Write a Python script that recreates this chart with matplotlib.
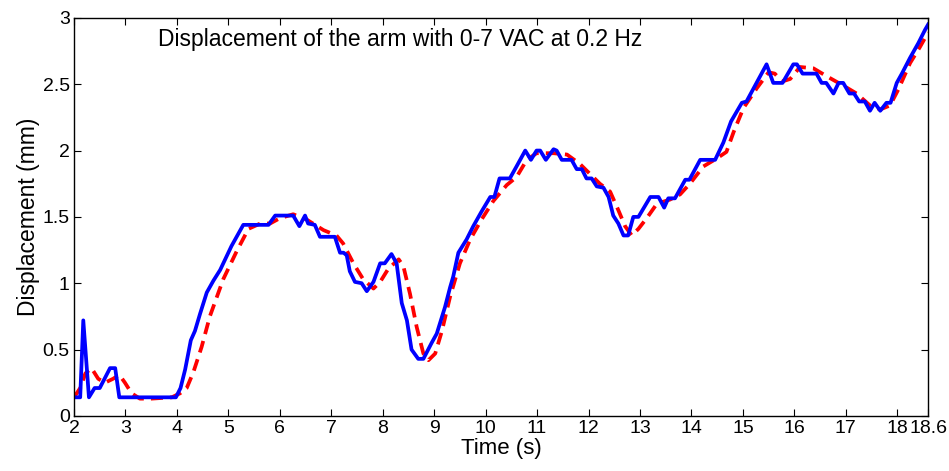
import numpy as np
import matplotlib.pyplot as plt

plt.rcParams['font.family'] = ['Liberation Sans', 'DejaVu Sans']

# measured displacement (blue)
t_meas = [2.0, 2.12, 2.18, 2.29, 2.4, 2.5, 2.7, 2.8, 2.88, 3.98, 4.07, 4.16, 4.27,
          4.35, 4.45, 4.58, 4.71, 4.84, 5.06, 5.29, 5.78, 5.91, 6.26, 6.38, 6.49,
          6.55, 6.68, 6.78, 7.07, 7.17, 7.24, 7.30, 7.36, 7.46, 7.59, 7.69, 7.82,
          7.95, 8.04, 8.17, 8.27, 8.37, 8.47, 8.56, 8.69, 8.79, 8.95, 9.05, 9.21,
          9.31, 9.37, 9.47, 9.63, 9.76, 9.92, 10.09, 10.17, 10.27, 10.47, 10.6,
          10.77, 10.88, 10.99, 11.06, 11.17, 11.32, 11.38, 11.48, 11.67, 11.77,
          11.87, 11.96, 12.06, 12.16, 12.29, 12.39, 12.48, 12.58, 12.68, 12.77,
          12.87, 12.97, 13.20, 13.36, 13.47, 13.55, 13.68, 13.88, 13.96, 14.17,
          14.46, 14.62, 14.77, 14.98, 15.07, 15.46, 15.59, 15.77, 15.98, 16.05,
          16.16, 16.43, 16.53, 16.62, 16.76, 16.86, 16.95, 17.07, 17.16, 17.26,
          17.37, 17.47, 17.56, 17.67, 17.79, 17.87, 17.99, 18.09, 18.25, 18.41,
          18.54, 18.6]
d_meas = [0.14, 0.14, 0.72, 0.14, 0.21, 0.21, 0.36, 0.36, 0.14, 0.14, 0.21, 0.35, 0.57,
          0.64, 0.77, 0.93, 1.02, 1.10, 1.28, 1.44, 1.44, 1.51, 1.51, 1.43, 1.51,
          1.45, 1.44, 1.35, 1.35, 1.23, 1.23, 1.21, 1.09, 1.01, 1.0, 0.94, 1.01,
          1.15, 1.15, 1.22, 1.15, 0.85, 0.72, 0.50, 0.43, 0.43, 0.55, 0.62, 0.82,
          0.97, 1.05, 1.23, 1.33, 1.43, 1.54, 1.65, 1.65, 1.79, 1.79, 1.88,
          2.0, 1.93, 2.0, 2.0, 1.93, 2.01, 2.0, 1.93, 1.93, 1.86,
          1.86, 1.79, 1.79, 1.73, 1.72, 1.65, 1.51, 1.45, 1.36, 1.36,
          1.50, 1.50, 1.65, 1.65, 1.57, 1.64, 1.64, 1.78, 1.78, 1.93,
          1.93, 2.06, 2.22, 2.36, 2.37, 2.65, 2.51, 2.51, 2.65, 2.65,
          2.58, 2.58, 2.51, 2.51, 2.43, 2.51, 2.51, 2.43, 2.43, 2.37,
          2.37, 2.30, 2.36, 2.30, 2.36, 2.36, 2.51, 2.58, 2.70, 2.81,
          2.91, 2.95]

# reference / model displacement (red dashed)
t_ref = [2.0, 2.12, 2.22, 2.34, 2.47, 2.6, 2.76, 2.88, 2.99, 3.12, 3.28, 3.5, 3.9,
         4.06, 4.19, 4.32, 4.48, 4.64, 4.77, 4.90, 5.16, 5.39, 5.62, 5.81, 6.0,
         6.26, 6.52, 6.85, 7.1, 7.23, 7.43, 7.62, 7.82, 7.95, 8.11, 8.31, 8.40,
         8.53, 8.66, 8.79, 8.89, 9.02, 9.15, 9.31, 9.50, 9.70, 9.92, 10.15, 10.41,
         10.60, 10.80, 10.99, 11.32, 11.58, 11.83, 12.09, 12.22, 12.42, 12.58,
         12.71, 12.84, 12.97, 13.13, 13.33, 13.58, 13.78, 13.97, 14.23, 14.49,
         14.68, 14.82, 15.01, 15.27, 15.50, 15.62, 15.76, 15.92, 16.11, 16.37,
         16.63, 16.95, 17.21, 17.47, 17.67, 17.86, 18.02, 18.25, 18.44, 18.6]
d_ref = [0.14, 0.21, 0.32, 0.36, 0.28, 0.25, 0.28, 0.31, 0.25, 0.17, 0.13, 0.13, 0.14,
         0.17, 0.21, 0.33, 0.52, 0.75, 0.89, 1.03, 1.24, 1.41, 1.45, 1.45, 1.49,
         1.52, 1.48, 1.40, 1.36, 1.30, 1.15, 1.03, 0.96, 1.01, 1.11, 1.18, 1.13,
         0.92, 0.67, 0.47, 0.42, 0.47, 0.64, 0.90, 1.15, 1.33, 1.48, 1.62, 1.74,
         1.80, 1.93, 1.98, 1.98, 1.97, 1.90, 1.80, 1.75, 1.69, 1.55,
         1.43, 1.36, 1.41, 1.49, 1.60, 1.63, 1.67, 1.75, 1.88, 1.94,
         1.99, 2.14, 2.32, 2.47, 2.59, 2.58, 2.52, 2.54, 2.63, 2.62,
         2.56, 2.49, 2.43, 2.34, 2.31, 2.34, 2.46, 2.66, 2.78, 2.89]

xticks = [2, 3, 4, 5, 6, 7, 8, 9, 10, 11, 12, 13, 14, 15, 16, 17, 18, 18.6]
xtick_labels = ['2', '3', '4', '5', '6', '7', '8', '9', '10', '11', '12', '13',
                '14', '15', '16', '17', '18', '18.6']
yticks = [0, 0.5, 1, 1.5, 2, 2.5, 3]
ytick_labels = ['0', '0.5', '1', '1.5', '2', '2.5', '3']

fig = plt.figure(figsize=(9.49, 4.71), dpi=100)
ax = fig.add_axes([0.078, 0.117, 0.900, 0.845])

ax.plot(t_ref, d_ref, color='#ff0000', linestyle=(0, (3.2, 1.9)), linewidth=2.7)
ax.plot(t_meas, d_meas, color='#0000ff', linewidth=2.7)

ax.set_xlim(2, 18.6)
ax.set_ylim(0, 3)
ax.set_xticks(xticks)
ax.set_xticklabels(xtick_labels)
ax.set_yticks(yticks)
ax.set_yticklabels(ytick_labels)
ax.tick_params(direction='in', top=True, right=True, length=5, width=0.8,
               labelsize=14)
ax.tick_params(axis='x', pad=3)
ax.tick_params(axis='y', pad=3)
ax.set_xlabel('Time (s)', fontsize=16, labelpad=1)
ax.set_ylabel('Displacement (mm)', fontsize=16.5, labelpad=2)
for s in ax.spines.values():
    s.set_linewidth(1.0)

ax.text(0.098, 0.945, 'Displacement of the arm with 0-7 VAC at 0.2 Hz',
        transform=ax.transAxes, fontsize=16.5, va='center', ha='left')

fig.savefig('out.png', dpi=100)
